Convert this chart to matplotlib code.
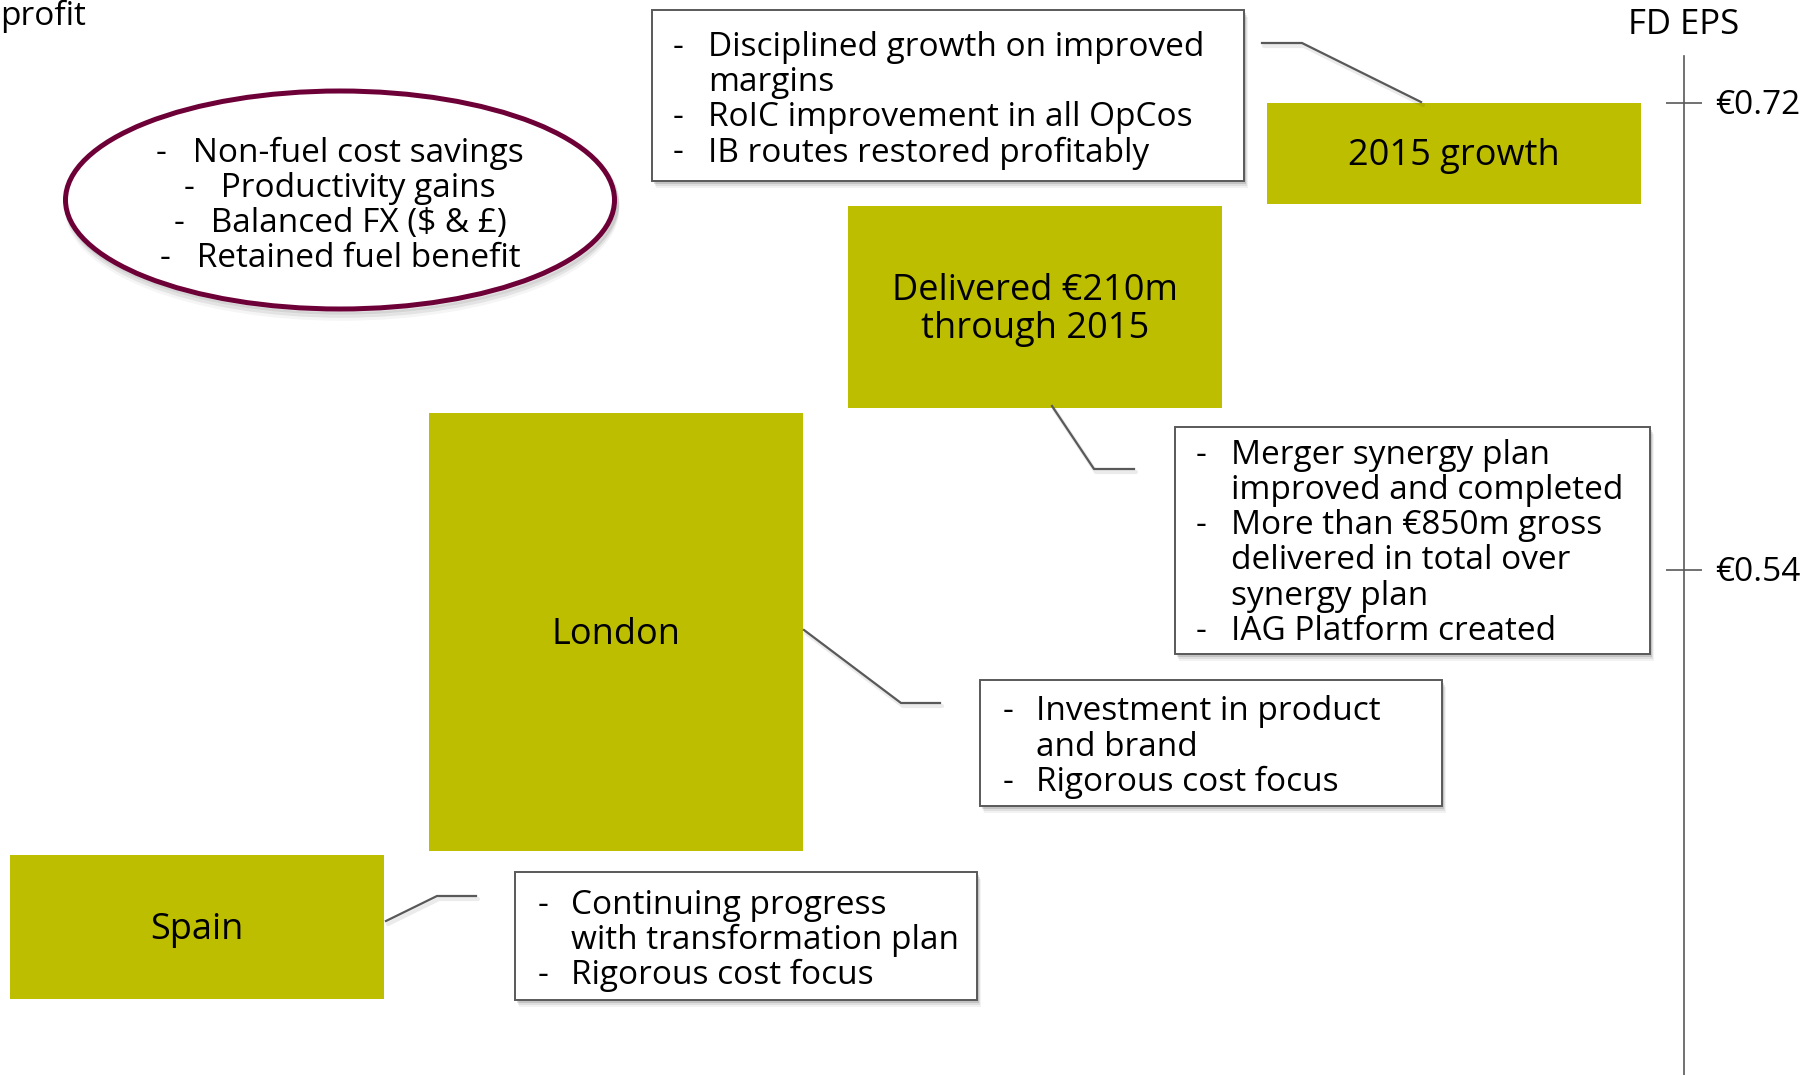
import matplotlib
matplotlib.use("Agg")
import matplotlib.pyplot as plt
from matplotlib.patches import Rectangle, Ellipse

plt.rcParams['font.family'] = ['Open Sans', 'DejaVu Sans']

# ---------------- data ----------------
categories = ["Spain", "London", "Delivered €210m\nthrough 2015", "2015 growth"]
bar_bottoms = [76, 224, 667, 871]      # waterfall start (chart units, up = positive)
bar_heights = [144, 438, 202, 101]     # waterfall increment (chart units)

eps_values = [0.54, 0.72]
eps_labels = ["€0.54", "€0.72"]
eps_axis_title = "FD EPS"
left_title = "profit"

ellipse_lines = ["Non-fuel cost savings", "Productivity gains",
                 "Balanced FX ($ & £)", "Retained fuel benefit"]

note_growth = [(True, "Disciplined growth on improved"), (False, "margins"),
               (True, "RoIC improvement in all OpCos"),
               (True, "IB routes restored profitably")]
note_synergy = [(True, "Merger synergy plan"), (False, "improved and completed"),
                (True, "More than €850m gross"), (False, "delivered in total over"),
                (False, "synergy plan"), (True, "IAG Platform created")]
note_london = [(True, "Investment in product"), (False, "and brand"),
               (True, "Rigorous cost focus")]
note_spain = [(True, "Continuing progress"), (False, "with transformation plan"),
              (True, "Rigorous cost focus")]

# ---------------- style ----------------
W, H = 1819, 1075
BAR = "#BDBE00"
MAROON = "#6E0038"
GREY = "#595959"
FS = 24       # note text
FS_BAR = 26   # bar labels

def Y(px):
    return H - px

fig = plt.figure(figsize=(W / 100, H / 100), dpi=100)
ax = fig.add_axes([0, 0, 1, 1])
ax.set_xlim(0, W)
ax.set_ylim(0, H)
ax.axis("off")

# waterfall bars
x_first, x_step, bar_w = 197, 419, 374
xs = [x_first + i * x_step for i in range(len(categories))]
ax.bar(xs, bar_heights, bottom=bar_bottoms, width=bar_w, color=BAR,
       edgecolor="none", zorder=2)
for x, b, h, lab in zip(xs, bar_bottoms, bar_heights, categories):
    ax.text(x, b + h / 2 - 3, lab, ha="center", va="center", fontsize=FS_BAR,
            color="black", linespacing=1.1, zorder=3)

def shadow_rect(x0, y0px, x1, y1px):
    for k, a in [(7, 0.05), (5, 0.08), (3, 0.12)]:
        ax.add_patch(Rectangle((x0 + k * 0.6, Y(y1px) - k), x1 - x0, y1px - y0px,
                               facecolor="black", alpha=a, edgecolor="none", zorder=3))
    ax.add_patch(Rectangle((x0, Y(y1px)), x1 - x0, y1px - y0px, facecolor="white",
                           edgecolor=GREY, linewidth=1.4, zorder=4))

def note(box, dash_x, text_x, y0, lines, step=35.3):
    shadow_rect(*box)
    for i, (bullet, t) in enumerate(lines):
        yy = Y(y0 + 3 + i * step)
        if bullet:
            ax.text(dash_x, yy, "-", ha="left", va="center", fontsize=FS, zorder=5)
        ax.text(text_x, yy, t, ha="left", va="center", fontsize=FS, zorder=5)

note((652, 10, 1244, 181), 673, 708, 44, note_growth)
note((1175, 427, 1650, 654), 1196, 1231, 452, note_synergy)
note((980, 680, 1442, 806), 1003, 1036, 709, note_london)
note((515, 872, 977, 1000), 538, 571, 902, note_spain)

# connectors
def connector(pts):
    xs_ = [p[0] for p in pts]
    ys_ = [Y(p[1]) for p in pts]
    ax.plot([x + 2 for x in xs_], [y - 3 for y in ys_], color="black", alpha=0.08,
            lw=3, zorder=3, solid_capstyle="round")
    ax.plot(xs_, ys_, color=GREY, lw=1.6, zorder=4)

connector([(1262, 43), (1302, 43), (1421, 102)])
connector([(1052, 406), (1094, 469), (1134, 469)])
connector([(804, 630), (901, 703), (940, 703)])
connector([(386, 921), (437, 896), (476, 896)])

# ellipse with shadow
cx, cy, ew, eh = 340, 200, 549, 218
for k, a in [(9, 0.04), (6, 0.07), (3, 0.10)]:
    ax.add_patch(Ellipse((cx + 2, Y(cy) - k), ew, eh, facecolor="none",
                         edgecolor="black", alpha=a, lw=4, zorder=3))
ax.add_patch(Ellipse((cx, Y(cy)), ew, eh, facecolor="white", edgecolor=MAROON,
                     lw=3.6, zorder=4))
for i, t in enumerate(ellipse_lines):
    ax.text(cx, Y(153 + i * 35.3), "-   " + t, ha="center", va="center",
            fontsize=FS, zorder=5)

# top-left title (partly outside the slide in the original)
ax.text(0, Y(16), left_title, ha="left", va="center", fontsize=FS, zorder=5)

# EPS axis (secondary scale)
ax2 = ax.twinx()
ax2.set_position([0, 0, 1, 1])
ax2.axis("off")
px_hi, px_lo = 103, 570
per_px = (eps_values[1] - eps_values[0]) / (px_lo - px_hi)
ax2.set_ylim(eps_values[0] - (H - px_lo) * per_px, eps_values[1] + px_hi * per_px)
axis_x = 1684
ax.plot([axis_x, axis_x], [Y(56), Y(H)], color=GREY, lw=1.2, zorder=2)
ax2.hlines(eps_values, axis_x - 18, axis_x + 18, color=GREY, lw=1.2)
for v, lab in zip(eps_values, eps_labels):
    ax2.text(axis_x + 31, v - 3 * per_px, lab, ha="left", va="center", fontsize=FS)
ax.text(axis_x, Y(25), eps_axis_title, ha="center", va="center", fontsize=25)

fig.savefig("out.png", dpi=100)
